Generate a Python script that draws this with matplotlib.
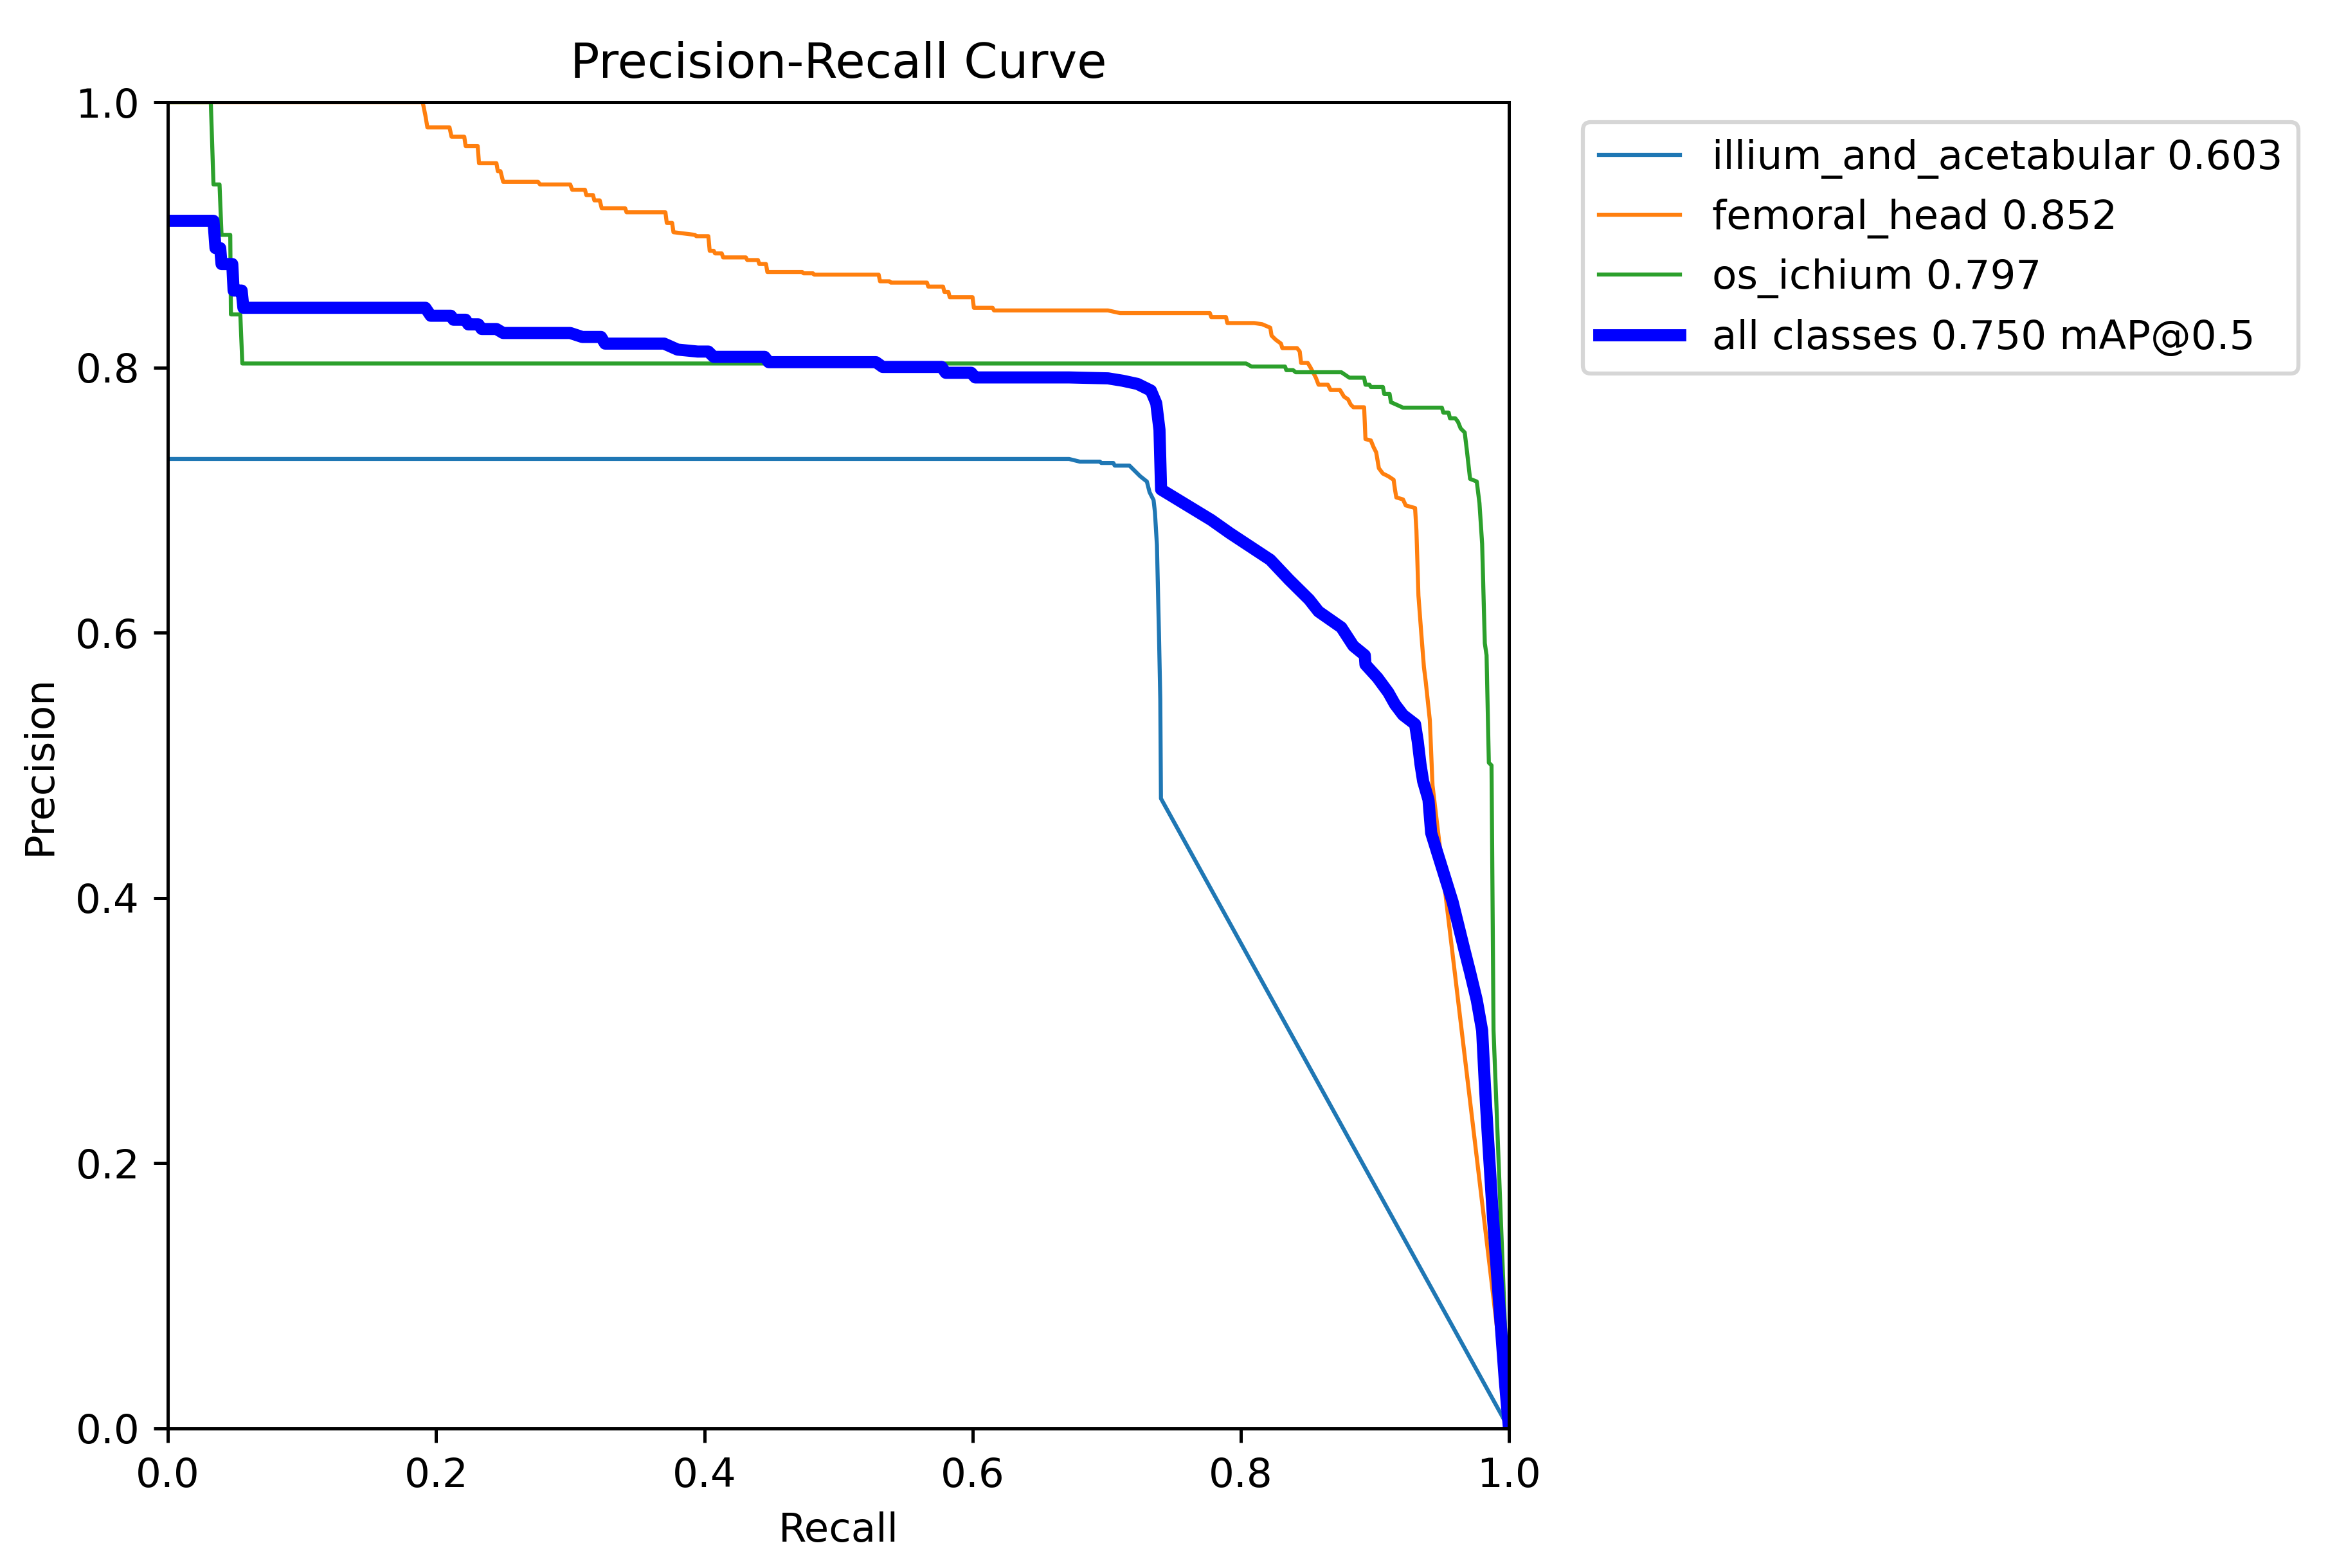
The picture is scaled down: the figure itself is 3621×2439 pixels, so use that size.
import numpy as np
import matplotlib.pyplot as plt

# (recall, precision)
illium = [(0.0, 0.731), (0.672, 0.731), (0.680, 0.729), (0.695, 0.729), (0.696, 0.728),
          (0.705, 0.728), (0.706, 0.726), (0.717, 0.726), (0.721, 0.722), (0.725, 0.718),
          (0.730, 0.714), (0.732, 0.706), (0.735, 0.700), (0.736, 0.691), (0.7375, 0.666),
          (0.739, 0.600), (0.740, 0.550), (0.7405, 0.475), (1.0, 0.0)]

femoral = [(0.0, 1.0), (0.190, 1.0), (0.192, 0.990), (0.1935, 0.981), (0.210, 0.981),
           (0.2115, 0.974), (0.221, 0.974), (0.222, 0.967), (0.231, 0.967), (0.232, 0.954),
           (0.245, 0.954), (0.246, 0.948), (0.248, 0.948), (0.250, 0.940), (0.276, 0.940),
           (0.2775, 0.938), (0.300, 0.938), (0.3015, 0.934), (0.311, 0.934), (0.312, 0.930),
           (0.317, 0.930), (0.318, 0.926), (0.322, 0.926), (0.3235, 0.920), (0.341, 0.920),
           (0.342, 0.917), (0.371, 0.917), (0.372, 0.909), (0.376, 0.909), (0.377, 0.902),
           (0.393, 0.900), (0.394, 0.899), (0.403, 0.899), (0.404, 0.888), (0.407, 0.888),
           (0.408, 0.886), (0.413, 0.886), (0.414, 0.883), (0.431, 0.883), (0.432, 0.881),
           (0.440, 0.881), (0.441, 0.878), (0.446, 0.878), (0.447, 0.872), (0.473, 0.872),
           (0.474, 0.871), (0.481, 0.871), (0.482, 0.870), (0.530, 0.870), (0.531, 0.865),
           (0.538, 0.865), (0.539, 0.864), (0.566, 0.864), (0.567, 0.861), (0.578, 0.861),
           (0.579, 0.857), (0.582, 0.857), (0.583, 0.853), (0.600, 0.853), (0.601, 0.845),
           (0.615, 0.845), (0.616, 0.843), (0.701, 0.843), (0.710, 0.841), (0.777, 0.841),
           (0.778, 0.838), (0.789, 0.838), (0.790, 0.8335), (0.810, 0.8335), (0.816, 0.8326),
           (0.822, 0.830), (0.823, 0.824), (0.826, 0.821), (0.830, 0.818), (0.831, 0.8146),
           (0.842, 0.8146), (0.844, 0.812), (0.845, 0.8034), (0.850, 0.8034), (0.852, 0.800),
           (0.856, 0.7923), (0.858, 0.787), (0.865, 0.787), (0.867, 0.783), (0.874, 0.783),
           (0.877, 0.778), (0.880, 0.776), (0.882, 0.772), (0.884, 0.770), (0.892, 0.770),
           (0.893, 0.746), (0.897, 0.745), (0.899, 0.740), (0.901, 0.736), (0.903, 0.724),
           (0.906, 0.720), (0.910, 0.718), (0.914, 0.7153), (0.915, 0.708), (0.916, 0.702),
           (0.921, 0.7005), (0.923, 0.696), (0.930, 0.694), (0.931, 0.677), (0.9325, 0.628),
           (0.9347, 0.5985), (0.9366, 0.574), (0.938, 0.5626), (0.941, 0.534), (0.943, 0.485),
           (1.0, 0.0)]

ichium = [(0.0, 1.0), (0.032, 1.0), (0.034, 0.938), (0.0385, 0.938), (0.040, 0.900),
          (0.0465, 0.900), (0.047, 0.840), (0.054, 0.840), (0.0555, 0.803), (0.804, 0.803),
          (0.808, 0.8007), (0.833, 0.8007), (0.834, 0.798), (0.839, 0.798), (0.841, 0.7964),
          (0.875, 0.7964), (0.881, 0.7923), (0.892, 0.7923), (0.893, 0.787), (0.896, 0.787),
          (0.897, 0.7853), (0.906, 0.7853), (0.907, 0.780), (0.911, 0.780), (0.912, 0.7738),
          (0.916, 0.772), (0.921, 0.7697), (0.950, 0.7697), (0.951, 0.766), (0.955, 0.766),
          (0.956, 0.7617), (0.960, 0.7617), (0.962, 0.759), (0.964, 0.754), (0.967, 0.751),
          (0.9687, 0.7367), (0.971, 0.716), (0.976, 0.714), (0.978, 0.6977), (0.980, 0.667),
          (0.982, 0.592), (0.9833, 0.583), (0.985, 0.502), (0.987, 0.500), (0.9885, 0.300),
          (1.0, 0.0)]

all_classes = [(0.0, 0.9106), (0.034, 0.9106), (0.0355, 0.890), (0.039, 0.890), (0.040, 0.878),
               (0.048, 0.878), (0.049, 0.858), (0.055, 0.858), (0.0563, 0.845), (0.192, 0.845),
               (0.196, 0.839), (0.211, 0.839), (0.213, 0.836), (0.222, 0.836), (0.224, 0.8325),
               (0.2315, 0.8325), (0.234, 0.829), (0.245, 0.829), (0.250, 0.826), (0.300, 0.826),
               (0.309, 0.823), (0.323, 0.823), (0.326, 0.818), (0.370, 0.818), (0.380, 0.8135),
               (0.395, 0.812), (0.403, 0.812), (0.407, 0.808), (0.445, 0.808), (0.448, 0.804),
               (0.528, 0.804), (0.533, 0.8004), (0.577, 0.8004), (0.580, 0.796), (0.599, 0.796),
               (0.602, 0.7925), (0.672, 0.7925), (0.701, 0.7918), (0.712, 0.790), (0.723, 0.7876),
               (0.733, 0.7826), (0.737, 0.773), (0.7394, 0.753), (0.7406, 0.708), (0.778, 0.685),
               (0.792, 0.675), (0.822, 0.655), (0.836, 0.640), (0.851, 0.625), (0.858, 0.616),
               (0.875, 0.604), (0.884, 0.590), (0.8925, 0.583), (0.893, 0.576), (0.902, 0.566),
               (0.910, 0.555), (0.915, 0.546), (0.921, 0.538), (0.930, 0.531), (0.932, 0.518),
               (0.934, 0.501), (0.936, 0.488), (0.940, 0.474), (0.942, 0.449), (0.958, 0.397),
               (0.967, 0.360), (0.971, 0.344), (0.976, 0.323), (0.980, 0.300), (0.982, 0.260),
               (0.984, 0.225), (0.988, 0.160), (0.993, 0.090), (0.997, 0.035), (1.0, 0.0)]

names = ['illium_and_acetabular', 'femoral_head', 'os_ichium']
ap = [0.603, 0.852, 0.797]
mAP = 0.750

dpi = 452
fig = plt.figure(figsize=(3622 / dpi, 2439 / dpi), dpi=dpi)
ax = fig.add_axes([0.0721, 0.0890, 0.5759, 0.8458])

for curve, name, a in zip([illium, femoral, ichium], names, ap):
    c = np.array(curve)
    ax.plot(c[:, 0], c[:, 1], linewidth=1, label=f'{name} {a:.3f}')

c = np.array(all_classes)
ax.plot(c[:, 0], c[:, 1], linewidth=3, color='blue', label=f'all classes {mAP:.3f} mAP@0.5')

ax.set_xlabel('Recall')
ax.set_ylabel('Precision')
ax.set_xlim(0, 1)
ax.set_ylim(0, 1)
ax.legend(bbox_to_anchor=(1.04, 1), loc='upper left')
ax.set_title('Precision-Recall Curve')

fig.savefig('out.png', dpi=dpi)
